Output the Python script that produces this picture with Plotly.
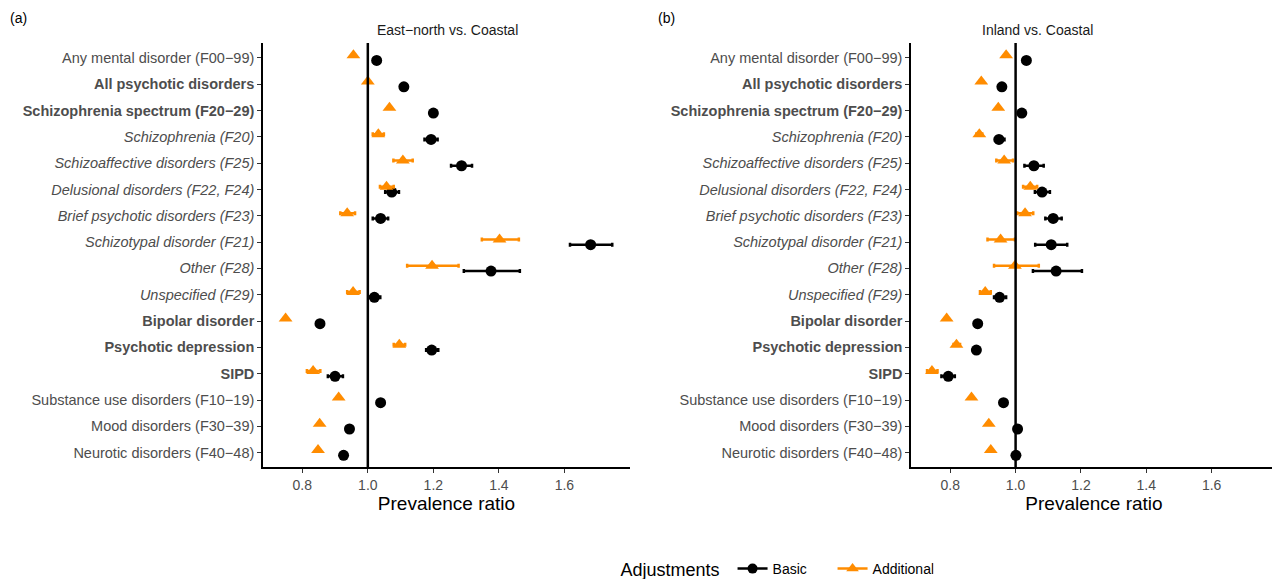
import plotly.graph_objects as go

categories = ["Any mental disorder (F00\u221299)", "<b>All psychotic disorders</b>",
              "<b>Schizophrenia spectrum (F20\u221229)</b>", "<i>Schizophrenia (F20)</i>",
              "<i>Schizoaffective disorders (F25)</i>", "<i>Delusional disorders (F22, F24)</i>",
              "<i>Brief psychotic disorders (F23)</i>", "<i>Schizotypal disorder (F21)</i>",
              "<i>Other (F28)</i>", "<i>Unspecified (F29)</i>", "<b>Bipolar disorder</b>",
              "<b>Psychotic depression</b>", "<b>SIPD</b>", "Substance use disorders (F10\u221219)",
              "Mood disorders (F30\u221239)", "Neurotic disorders (F40\u221248)"]

# Panel a: East-north vs. Coastal
a_basic = [1.027, 1.11, 1.20, 1.193, 1.286, 1.073, 1.039, 1.68, 1.376, 1.02, 0.854, 1.195, 0.90, 1.039, 0.944, 0.926]
a_basic_lo = [None, None, None, 1.173, 1.254, 1.053, 1.015, 1.617, 1.293, 1.007, None, 1.178, 0.878, None, None, None]
a_basic_hi = [None, None, None, 1.213, 1.318, 1.095, 1.062, 1.746, 1.464, 1.038, None, 1.215, 0.924, None, None, None]
a_add = [0.956, 1.0, 1.066, 1.032, 1.107, 1.057, 0.937, 1.402, 1.196, 0.955, 0.749, 1.096, 0.833, 0.911, 0.853, 0.848]
a_add_lo = [None, None, None, 1.015, 1.078, 1.037, 0.916, 1.348, 1.12, 0.937, None, 1.079, 0.814, None, None, None]
a_add_hi = [None, None, None, 1.049, 1.137, 1.079, 0.961, 1.461, 1.277, 0.975, None, 1.114, 0.855, None, None, None]

# Panel b: Inland vs. Coastal
b_basic = [1.033, 0.958, 1.019, 0.949, 1.056, 1.081, 1.115, 1.109, 1.124, 0.951, 0.884, 0.88, 0.794, 0.963, 1.006, 1.001]
b_basic_lo = [None, None, None, 0.937, 1.027, 1.059, 1.091, 1.06, 1.053, 0.934, None, 0.87, 0.773, None, None, None]
b_basic_hi = [None, None, None, 0.966, 1.086, 1.105, 1.141, 1.158, 1.203, 0.971, None, 0.89, 0.814, None, None, None]
b_add = [0.971, 0.895, 0.947, 0.889, 0.965, 1.045, 1.029, 0.954, 0.998, 0.907, 0.789, 0.819, 0.744, 0.865, 0.918, 0.924]
b_add_lo = [None, None, None, 0.88, 0.941, 1.023, 1.005, 0.914, 0.934, 0.891, None, 0.81, 0.729, None, None, None]
b_add_hi = [None, None, None, 0.898, 0.992, 1.066, 1.054, 0.998, 1.071, 0.924, None, 0.83, 0.761, None, None, None]

x_ticks = [0.8, 1.0, 1.2, 1.4, 1.6]
BLACK = "#000000"
ORANGE = "#FF8C00"

def errs(v, lo, hi):
    plus = [(h - x) if h is not None else 0 for x, h in zip(v, hi)]
    minus = [(x - l) if l is not None else 0 for x, l in zip(v, lo)]
    return plus, minus

fig = go.Figure()
idx = list(range(len(categories)))
panels = [("x", "y", a_basic, a_basic_lo, a_basic_hi, a_add, a_add_lo, a_add_hi),
          ("x2", "y2", b_basic, b_basic_lo, b_basic_hi, b_add, b_add_lo, b_add_hi)]
for xa, ya, bv, bl, bh, av, al, ah in panels:
    p, m = errs(bv, bl, bh)
    fig.add_trace(go.Scatter(x=bv, y=[i + 0.1 for i in idx], xaxis=xa, yaxis=ya, mode="markers",
                             marker=dict(symbol="circle", size=11, color=BLACK),
                             error_x=dict(type="data", array=p, arrayminus=m, color=BLACK, thickness=2.5, width=2),
                             name="Basic", showlegend=False))
    p, m = errs(av, al, ah)
    fig.add_trace(go.Scatter(x=av, y=[i - 0.1 for i in idx], xaxis=xa, yaxis=ya, mode="markers",
                             marker=dict(symbol="triangle-up", size=12, color=ORANGE),
                             error_x=dict(type="data", array=p, arrayminus=m, color=ORANGE, thickness=2.5, width=2),
                             name="Additional", showlegend=False))

fig.add_trace(go.Scatter(x=[None], y=[None], mode="lines+markers", name="Basic",
                         line=dict(color=BLACK, width=2.5), marker=dict(symbol="circle", size=10, color=BLACK)))
fig.add_trace(go.Scatter(x=[None], y=[None], mode="lines+markers", name="Additional",
                         line=dict(color=ORANGE, width=2.5), marker=dict(symbol="triangle-up", size=11, color=ORANGE)))

xcommon = dict(range=[0.68, 1.80], tickvals=x_ticks, ticktext=[f"{t:.1f}" for t in x_ticks],
               showline=True, linecolor="black", linewidth=1.5, ticks="outside", ticklen=4,
               tickcolor="#333", tickfont=dict(size=14, color="#4d4d4d"), showgrid=False, zeroline=False,
               title=dict(text="Prevalence ratio", font=dict(size=19, color="black"), standoff=4))
ycommon = dict(range=[15.56, -0.56], tickvals=idx, ticktext=categories,
               showline=True, linecolor="black", linewidth=1.5, ticks="outside", ticklen=4,
               tickcolor="#333", tickfont=dict(size=14.5, color="#4d4d4d"), showgrid=False, zeroline=False)
fig.update_layout(
    width=1280, height=579, plot_bgcolor="white", paper_bgcolor="white",
    font=dict(family="Liberation Sans, Arial, sans-serif"),
    margin=dict(l=0, r=0, t=0, b=0),
    xaxis=dict(domain=[0.1992, 0.4859], anchor="y", **xcommon),
    yaxis=dict(domain=[0.201, 0.939], anchor="x", **ycommon),
    xaxis2=dict(domain=[0.7055, 0.9914], anchor="y2", **xcommon),
    yaxis2=dict(domain=[0.201, 0.939], anchor="x2", **ycommon),
    legend=dict(orientation="h", x=0.60, xanchor="center", y=0.022, yanchor="middle",
                title=dict(text="Adjustments ", font=dict(size=18, color="black"), side="left"),
                font=dict(size=14, color="black"), entrywidth=55, entrywidthmode="pixels"),
    showlegend=True,
)
for xr, yr in [("x", "y domain"), ("x2", "y2 domain")]:
    fig.add_shape(type="line", xref=xr, yref=yr, x0=1, x1=1, y0=0, y1=1, line=dict(color="black", width=2.5))
fig.add_annotation(text="East\u2212north vs. Coastal", x=0.343, y=0.945, xref="paper", yref="paper",
                   showarrow=False, font=dict(size=14, color="#1a1a1a"), yanchor="bottom")
fig.add_annotation(text="Inland vs. Coastal", x=0.849, y=0.945, xref="paper", yref="paper",
                   showarrow=False, font=dict(size=14, color="#1a1a1a"), yanchor="bottom")
fig.add_annotation(text="(a)", x=0.0, y=1.0, xref="paper", yref="paper", xanchor="left", yanchor="top",
                   showarrow=False, font=dict(size=14, color="black"))
fig.add_annotation(text="(b)", x=0.506, y=1.0, xref="paper", yref="paper", xanchor="left", yanchor="top",
                   showarrow=False, font=dict(size=14, color="black"))
fig.write_html("out.html")
